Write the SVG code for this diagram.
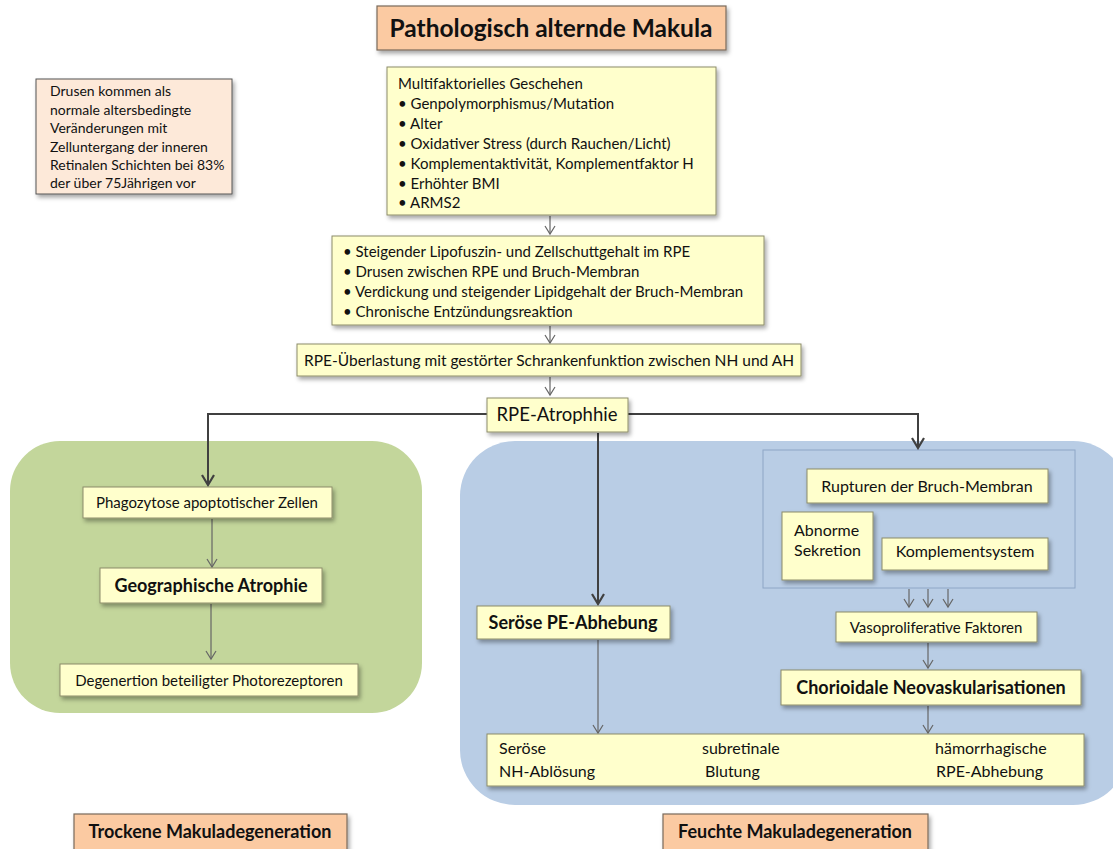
<svg xmlns="http://www.w3.org/2000/svg" width="1113" height="849" viewBox="0 0 1113 849">
<defs>
<filter id="sh" x="-10%" y="-20%" width="130%" height="160%">
<feDropShadow dx="2" dy="3" stdDeviation="2" flood-color="#000" flood-opacity="0.35"/>
</filter>
<marker id="ah" markerWidth="12" markerHeight="12" refX="10" refY="6" orient="auto" markerUnits="userSpaceOnUse" viewBox="0 0 12 12">
<path d="M2,1 L10,6 L2,11" fill="none" stroke="#666" stroke-width="1.2"/>
</marker>
<marker id="ahd" markerWidth="14" markerHeight="14" refX="12" refY="7" orient="auto" markerUnits="userSpaceOnUse" viewBox="0 0 14 14">
<path d="M2,1 L12,7 L2,13" fill="none" stroke="#404040" stroke-width="2.2"/>
</marker>
</defs>
<style>
text{font-family:Lato,"Open Sans","Liberation Sans",sans-serif;fill:#111;font-size:15px}
.b{font-weight:bold;font-size:18px}
.t{font-weight:bold;font-size:24.5px}
.s{font-size:14px}
.l{font-size:16px}
.y{fill:#ffffcc;stroke:#8c8c6a;stroke-width:1;filter:url(#sh)}
.p{fill:#fbcaa2;stroke:#7a6a5a;stroke-width:1.2;filter:url(#sh)}
.n{fill:#fde9d9;stroke:#555;stroke-width:1;filter:url(#sh)}
.c{fill:none;stroke:#666;stroke-width:1.2;marker-end:url(#ah)}
.d{fill:none;stroke:#404040;stroke-width:2;marker-end:url(#ahd)}
.m{text-anchor:middle}
</style>
<rect width="1113" height="849" fill="#fff"/>
<g id="bg-trocken"><rect x="10" y="441" width="412" height="272" rx="50" fill="#c3d69b"/></g>
<g id="bg-feucht"><rect x="460" y="441" width="668" height="364" rx="55" fill="#b9cde5"/>
<rect x="763" y="450" width="312" height="138" fill="#b9cde5" stroke="#8ea6c6" stroke-width="1"/></g>

<g id="connectors">
<line class="c" x1="550" y1="216" x2="550" y2="234"/>
<line class="c" x1="550" y1="326" x2="550" y2="343"/>
<line class="c" x1="550" y1="377" x2="550" y2="395"/>
<polyline class="d" points="487,414 208,414 208,485"/>
<polyline class="d" points="628,414 918,414 918,448"/>
<line class="d" x1="598" y1="433" x2="598" y2="604"/>
<line class="c" x1="212" y1="519" x2="212" y2="567"/>
<line class="c" x1="211" y1="604" x2="211" y2="659"/>
<line class="c" x1="909" y1="589" x2="909" y2="607"/>
<line class="c" x1="928" y1="589" x2="928" y2="607"/>
<line class="c" x1="948" y1="589" x2="948" y2="607"/>
<line class="c" x1="928" y1="643" x2="928" y2="668"/>
<line class="c" x1="928" y1="706" x2="928" y2="733"/>
<line class="c" x1="598" y1="640" x2="598" y2="733"/>
</g>

<g id="title"><rect class="p" x="377" y="6" width="349" height="44"/><text class="t m" x="551" y="37">Pathologisch alternde Makula</text></g>

<g id="note"><rect class="n" x="36" y="79" width="196" height="115"/>
<text class="s" x="50" y="96">Drusen kommen als</text>
<text class="s" x="50" y="115">normale altersbedingte</text>
<text class="s" x="50" y="133">Veränderungen mit</text>
<text class="s" x="50" y="152">Zelluntergang der inneren</text>
<text class="s" x="50" y="170">Retinalen Schichten bei 83%</text>
<text class="s" x="50" y="188">der über 75Jährigen vor</text></g>

<g id="multi"><rect class="y" x="387" y="67" width="329" height="148"/>
<text x="398" y="89">Multifaktorielles Geschehen</text>
<text x="398" y="109">• Genpolymorphismus/Mutation</text>
<text x="398" y="129">• Alter</text>
<text x="398" y="149">• Oxidativer Stress (durch Rauchen/Licht)</text>
<text x="398" y="169">• Komplementaktivität, Komplementfaktor H</text>
<text x="398" y="189">• Erhöhter BMI</text>
<text x="398" y="208">• ARMS2</text></g>

<g id="lipo"><rect class="y" x="332" y="236" width="432" height="89"/>
<text x="343" y="257">• Steigender Lipofuszin- und Zellschuttgehalt im RPE</text>
<text x="343" y="277">• Drusen zwischen RPE und Bruch-Membran</text>
<text x="343" y="297">• Verdickung und steigender Lipidgehalt der Bruch-Membran</text>
<text x="343" y="317">• Chronische Entzündungsreaktion</text></g>

<g id="ueberlastung"><rect class="y" x="297" y="344" width="504" height="32"/>
<text class="m" x="549" y="366" style="font-size:15.5px">RPE-Überlastung mit gestörter Schrankenfunktion zwischen NH und AH</text></g>

<g id="atrophie"><rect class="y" x="487" y="398" width="141" height="34"/>
<text class="m" x="557" y="421" style="font-size:18.5px">RPE-Atrophhie</text></g>

<g id="phago"><rect class="y" x="83" y="487" width="249" height="31"/>
<text class="m" x="207" y="508">Phagozytose apoptotischer Zellen</text></g>
<g id="geo"><rect class="y" x="100" y="568" width="222" height="35"/>
<text class="b m" x="211" y="592">Geographische Atrophie</text></g>
<g id="degen"><rect class="y" x="60" y="664" width="298" height="32"/>
<text class="m" x="209" y="686">Degenertion beteiligter Photorezeptoren</text></g>

<g id="rupturen"><rect class="y" x="807" y="469" width="241" height="34"/>
<text class="m l" x="927" y="492">Rupturen der Bruch-Membran</text></g>
<g id="abnorme"><rect class="y" x="782" y="512" width="91" height="68"/>
<text class="l" x="794" y="536">Abnorme</text><text class="l" x="794" y="556">Sekretion</text></g>
<g id="komplement"><rect class="y" x="882" y="538" width="166" height="32"/>
<text class="m l" x="965" y="557">Komplementsystem</text></g>
<g id="vaso"><rect class="y" x="836" y="612" width="201" height="30"/>
<text class="m" x="936" y="633">Vasoproliferative Faktoren</text></g>
<g id="cnv"><rect class="y" x="781" y="670" width="300" height="35"/>
<text class="b m" x="931" y="694">Chorioidale Neovaskularisationen</text></g>
<g id="seroese"><rect class="y" x="477" y="606" width="193" height="33"/>
<text class="b m" x="573" y="629">Seröse PE-Abhebung</text></g>
<g id="folgen"><rect class="y" x="487" y="734" width="597" height="52"/>
<text class="l" x="499" y="754">Seröse</text><text class="l" x="499" y="777">NH-Ablösung</text>
<text class="l" x="702" y="754">subretinale</text><text class="l" x="705" y="777">Blutung</text>
<text class="l" x="935" y="754">hämorrhagische</text><text class="l" x="936" y="777">RPE-Abhebung</text></g>

<g id="trocken"><rect class="p" x="74" y="814" width="273" height="40"/>
<text class="b m" x="210" y="838">Trockene Makuladegeneration</text></g>
<g id="feucht"><rect class="p" x="663" y="814" width="265" height="40"/>
<text class="b m" x="795" y="838">Feuchte Makuladegeneration</text></g>
</svg>
